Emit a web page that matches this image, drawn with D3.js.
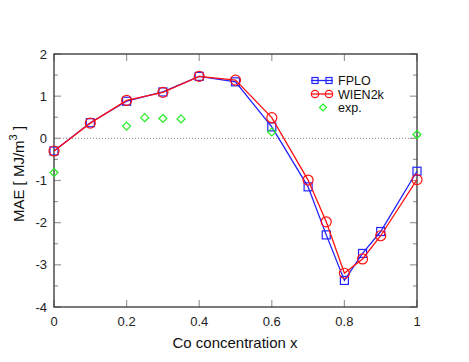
<!DOCTYPE html>
<html>
<head>
<meta charset="utf-8">
<script src="https://cdn.jsdelivr.net/npm/d3@7"></script>
<style>
body { margin: 0; background: #fff; }
text { font-family: "Liberation Sans", Arial, sans-serif; }
</style>
</head>
<body>
<svg id="chart" width="469" height="362"></svg>
<script>
// data
var xCalc = [0, 0.1, 0.2, 0.3, 0.4, 0.5, 0.6, 0.7, 0.75, 0.8, 0.85, 0.9, 1.0];
var fplo = [-0.3, 0.37, 0.88, 1.1, 1.47, 1.34, 0.27, -1.15, -2.29, -3.37, -2.73, -2.21, -0.78];
var wien2k = [-0.3, 0.36, 0.9, 1.09, 1.47, 1.38, 0.49, -0.99, -1.98, -3.2, -2.86, -2.31, -0.98];
var xExp = [0, 0.2, 0.25, 0.3, 0.35, 0.6, 1.0];
var expVals = [-0.81, 0.29, 0.49, 0.47, 0.46, 0.15, 0.09];
var xTicks = [0, 0.2, 0.4, 0.6, 0.8, 1];
var yTicks = [-4, -3, -2, -1, 0, 1, 2];

var m = {left: 54, right: 417, top: 54, bottom: 307};
var svg = d3.select("#chart");

var x = d3.scaleLinear().domain([0, 1]).range([m.left, m.right]);
var y = d3.scaleLinear().domain([-4, 2]).range([m.bottom, m.top]);

// zero line
svg.append("line")
  .attr("x1", x(0)).attr("x2", x(1))
  .attr("y1", y(0)).attr("y2", y(0))
  .attr("stroke", "#888").attr("stroke-width", 1)
  .attr("stroke-dasharray", "1,2");

// ticks (inward)
var tickCol = "#999";
xTicks.forEach(function(t) {
  svg.append("line").attr("x1", x(t)).attr("x2", x(t))
    .attr("y1", m.bottom).attr("y2", m.bottom - 7)
    .attr("stroke", tickCol).attr("stroke-width", 1.2);
  svg.append("line").attr("x1", x(t)).attr("x2", x(t))
    .attr("y1", m.top).attr("y2", m.top + 7)
    .attr("stroke", tickCol).attr("stroke-width", 1.2);
  svg.append("text").attr("x", x(t)).attr("y", m.bottom + 19)
    .attr("text-anchor", "middle").attr("font-size", 13).attr("fill", "#222")
    .text(t);
});
d3.range(-4, 2.01, 0.5).forEach(function(t) {
  var major = Math.abs(t - Math.round(t)) < 1e-6;
  var len = major ? 7 : 4;
  svg.append("line").attr("x1", m.left).attr("x2", m.left + len)
    .attr("y1", y(t)).attr("y2", y(t))
    .attr("stroke", tickCol).attr("stroke-width", 1.2);
  svg.append("line").attr("x1", m.right).attr("x2", m.right - len)
    .attr("y1", y(t)).attr("y2", y(t))
    .attr("stroke", tickCol).attr("stroke-width", 1.2);
});
yTicks.forEach(function(t) {
  svg.append("text").attr("x", m.left - 7).attr("y", y(t) + 4.5)
    .attr("text-anchor", "end").attr("font-size", 13).attr("fill", "#222")
    .text(t);
});

// frame
svg.append("rect")
  .attr("x", m.left).attr("y", m.top)
  .attr("width", m.right - m.left).attr("height", m.bottom - m.top)
  .attr("fill", "none").attr("stroke", "#333").attr("stroke-width", 1.3);

// axis labels
svg.append("text").attr("x", 235).attr("y", 348)
  .attr("text-anchor", "middle").attr("font-size", 15).attr("fill", "#111")
  .text("Co concentration x");
var yl = svg.append("text")
  .attr("transform", "translate(24,174) rotate(-90)")
  .attr("text-anchor", "middle").attr("font-size", 15).attr("fill", "#111");
yl.append("tspan").text("MAE [ MJ/m");
yl.append("tspan").attr("dy", -7).attr("font-size", 11).text("3");
yl.append("tspan").attr("dy", 7).text(" ]");

var line = d3.line().x(function(d) { return x(d[0]); }).y(function(d) { return y(d[1]); });

var blue = "#2222ff", red = "#ff1111", green = "#22ee22";

function drawSquares(g, pts, col) {
  g.selectAll("rect.pt").data(pts).enter().append("rect").attr("class", "pt")
    .attr("x", function(d) { return x(d[0]) - 4; })
    .attr("y", function(d) { return y(d[1]) - 4; })
    .attr("width", 8).attr("height", 8)
    .attr("fill", "none").attr("stroke", col).attr("stroke-width", 1.2);
}
function drawCircles(g, pts, col) {
  g.selectAll("circle.pt").data(pts).enter().append("circle").attr("class", "pt")
    .attr("cx", function(d) { return x(d[0]); })
    .attr("cy", function(d) { return y(d[1]); })
    .attr("r", 5)
    .attr("fill", "none").attr("stroke", col).attr("stroke-width", 1.2);
}
function diamond(cx, cy, s) {
  return "M" + cx + "," + (cy - s) + "L" + (cx + s) + "," + cy + "L" + cx + "," + (cy + s) + "L" + (cx - s) + "," + cy + "Z";
}

var fploPts = xCalc.map(function(v, i) { return [v, fplo[i]]; });
var wienPts = xCalc.map(function(v, i) { return [v, wien2k[i]]; });
var expPts = xExp.map(function(v, i) { return [v, expVals[i]]; });

var gF = svg.append("g");
gF.append("path").attr("d", line(fploPts)).attr("fill", "none").attr("stroke", blue).attr("stroke-width", 1.3);
drawSquares(gF, fploPts, blue);

var gW = svg.append("g");
gW.append("path").attr("d", line(wienPts)).attr("fill", "none").attr("stroke", red).attr("stroke-width", 1.3);
drawCircles(gW, wienPts, red);

svg.append("g").selectAll("path").data(expPts).enter().append("path")
  .attr("d", function(d) { return diamond(x(d[0]), y(d[1]), 4); })
  .attr("fill", "none").attr("stroke", green).attr("stroke-width", 1.2);

// legend
var lx1 = 311, lx2 = 333, mk1 = 315, mk2 = 329, tx = 338;
var legY = [80.5, 94, 107.5];
svg.append("line").attr("x1", lx1).attr("x2", lx2).attr("y1", legY[0]).attr("y2", legY[0])
  .attr("stroke", blue).attr("stroke-width", 1.3);
[mk1, mk2].forEach(function(px) {
  svg.append("rect").attr("x", px - 3).attr("y", legY[0] - 3).attr("width", 6).attr("height", 6)
    .attr("fill", "none").attr("stroke", blue).attr("stroke-width", 1.2);
});
svg.append("line").attr("x1", lx1).attr("x2", lx2).attr("y1", legY[1]).attr("y2", legY[1])
  .attr("stroke", red).attr("stroke-width", 1.3);
[mk1, mk2].forEach(function(px) {
  svg.append("circle").attr("cx", px).attr("cy", legY[1]).attr("r", 3.7)
    .attr("fill", "none").attr("stroke", red).attr("stroke-width", 1.2);
});
svg.append("path").attr("d", diamond(323, legY[2], 3.5))
  .attr("fill", "none").attr("stroke", green).attr("stroke-width", 1.2);
["FPLO", "WIEN2k", "exp."].forEach(function(s, i) {
  svg.append("text").attr("x", tx).attr("y", legY[i] + 4.5)
    .attr("font-size", 12.5).attr("fill", "#111").text(s);
});
</script>
</body>
</html>
